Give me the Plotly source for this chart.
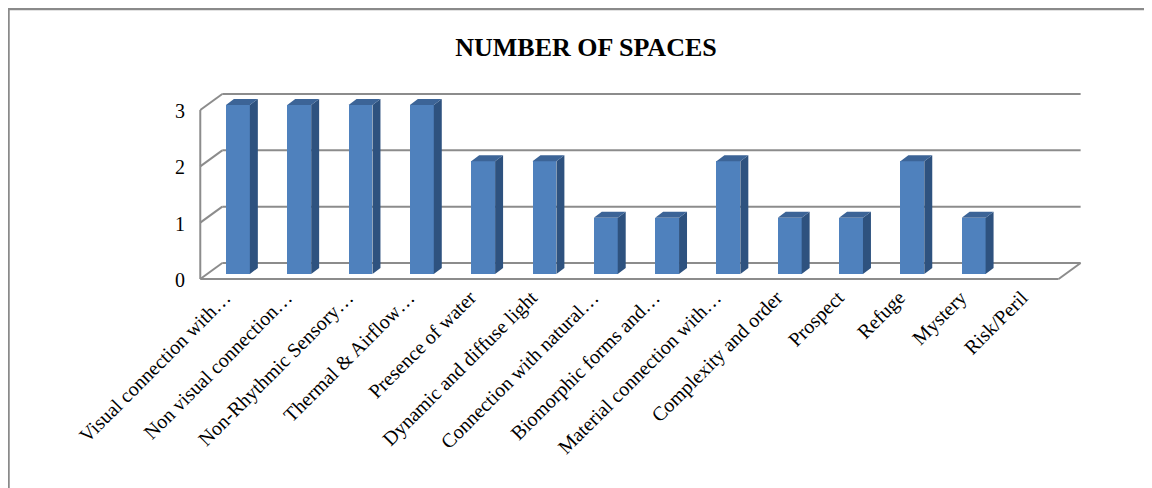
import plotly.graph_objects as go

categories = [
    "Visual connection with…",
    "Non visual connection…",
    "Non-Rhythmic Sensory…",
    "Thermal & Airflow…",
    "Presence of water",
    "Dynamic and diffuse light",
    "Connection with natural…",
    "Biomorphic forms and…",
    "Material connection with…",
    "Complexity and order",
    "Prospect",
    "Refuge",
    "Mystery",
    "Risk/Peril",
]
values = [3, 3, 3, 3, 2, 2, 1, 1, 2, 1, 1, 2, 1, 0]
y_ticks = [0, 1, 2, 3]
title_text = "NUMBER OF SPACES"

# pseudo-3D geometry (data units)
n = len(categories)
xs = list(range(n))
BAR_W = 0.39
DDX, DDY = 0.13, 0.107          # bar depth
DXB, DYB = 0.245, 0.195         # back wall offset
DXF, DYF = -0.114, -0.089       # front edge offset
X_LO, X_HI = -0.5, n - 0.5

FONT = "Liberation Serif, Times New Roman, serif"
GRID = "#8c8c8c"
FRONT = "#4f81bd"
TOP = "#3c6497"
SIDE = "#2e527f"

fig = go.Figure()

fig.add_trace(go.Bar(x=xs, y=values, width=BAR_W, marker=dict(color=FRONT, line=dict(width=0)),
                     showlegend=False, hoverinfo="skip"))

sx, sy, tx, ty = [], [], [], []
for x, v in zip(xs, values):
    if v <= 0:
        continue
    r = x + BAR_W / 2
    l = x - BAR_W / 2
    sx += [r, r, r + DDX, r + DDX, r, None]
    sy += [0, v, v + DDY, DDY, 0, None]
    tx += [l, r, r + DDX, l + DDX, l, None]
    ty += [v, v, v + DDY, v + DDY, v, None]

fig.add_trace(go.Scatter(x=sx, y=sy, mode="lines", fill="toself", fillcolor=SIDE,
                         line=dict(width=0, color=SIDE), showlegend=False, hoverinfo="skip"))
fig.add_trace(go.Scatter(x=tx, y=ty, mode="lines", fill="toself", fillcolor=TOP,
                         line=dict(width=0, color=TOP), showlegend=False, hoverinfo="skip"))

shapes = []
line = dict(color=GRID, width=2)
for v in y_ticks:
    shapes.append(dict(type="line", xref="x", yref="y", layer="below",
                       x0=X_LO + DXB, x1=X_HI + DXB, y0=v + DYB, y1=v + DYB, line=line))
    shapes.append(dict(type="line", xref="x", yref="y", layer="below",
                       x0=X_LO + DXF, x1=X_LO + DXB, y0=v + DYF, y1=v + DYB, line=line))
# left wall front edge
shapes.append(dict(type="line", xref="x", yref="y", layer="below",
                   x0=X_LO + DXF, x1=X_LO + DXF, y0=DYF, y1=max(y_ticks) + DYF, line=line))
# floor front edge and right edge
shapes.append(dict(type="line", xref="x", yref="y", layer="below",
                   x0=X_LO + DXF, x1=X_HI + DXF, y0=DYF, y1=DYF, line=line))
shapes.append(dict(type="line", xref="x", yref="y", layer="below",
                   x0=X_HI + DXF, x1=X_HI + DXB, y0=DYF, y1=DYB, line=line))
# outer border (left + top visible)
shapes.append(dict(type="rect", xref="paper", yref="paper",
                   x0=-0.2098, x1=1.3, y0=-3, y1=1.382, line=dict(color="#8a8a8a", width=2.5)))

fig.update_layout(
    width=1152, height=488, autosize=False,
    margin=dict(l=187, r=76, t=77, b=212),
    paper_bgcolor="white", plot_bgcolor="white",
    title=dict(text="<b>" + title_text + "</b>", x=578 / 1152, xanchor="center", xref="container",
               y=1 - 39 / 488, yref="container", yanchor="middle",
               font=dict(family=FONT, size=26, color="black")),
    shapes=shapes,
    font=dict(family=FONT, size=20, color="black"),
    bargap=0,
)
fig.update_xaxes(range=[-0.7, 13.8], tickvals=xs, ticktext=categories, tickangle=-45,
                 showgrid=False, zeroline=False, showline=False, ticks="",
                 ticklabelshift=-13, ticklabelstandoff=-3,
                 tickfont=dict(family=FONT, size=20, color="black"))
fig.update_yaxes(range=[-0.1775, 3.355], tickvals=y_ticks, showgrid=False, zeroline=False,
                 showline=False, ticks="", ticklabelstandoff=9, ticklabelshift=6,
                 tickfont=dict(family=FONT, size=20, color="black"))

fig.write_html("out.html")
